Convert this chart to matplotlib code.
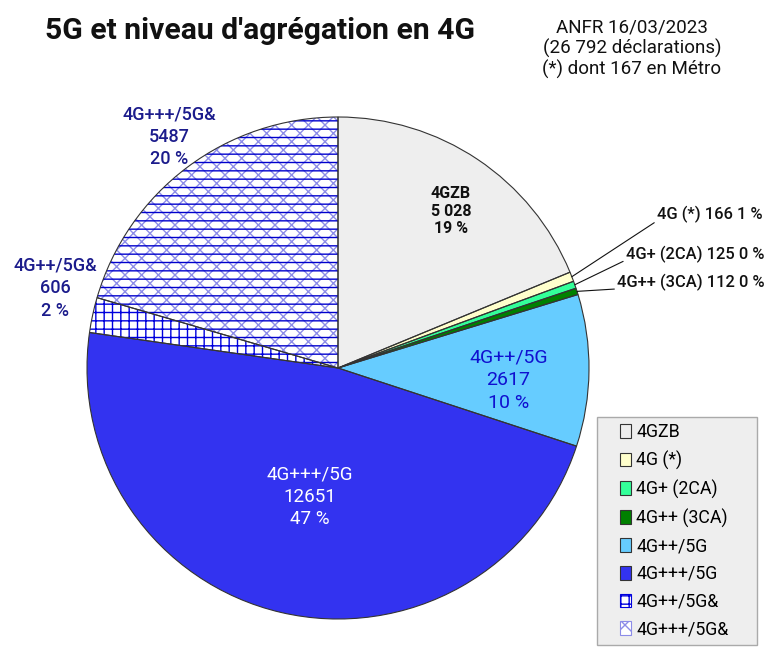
import matplotlib
matplotlib.use("Agg")
import matplotlib.pyplot as plt
from matplotlib.patches import Rectangle
import numpy as np

plt.rcParams['font.family'] = ['Roboto', 'DejaVu Sans']
plt.rcParams['hatch.linewidth'] = 1.0

categories = ["4GZB", "4G (*)", "4G+ (2CA)", "4G++ (3CA)", "4G++/5G", "4G+++/5G", "4G++/5G&", "4G+++/5G&"]
values = [5028, 166, 125, 112, 2617, 12651, 606, 5487]
value_text = ["5\u202f028", "166", "125", "112", "2617", "12651", "606", "5487"]
pct_text = ["19 %", "1 %", "0 %", "0 %", "10 %", "47 %", "2 %", "20 %"]
colors = ["#eeeeee", "#ffffcc", "#33ff99", "#008000", "#66ccff", "#3333f0", "#ffffff", "#ffffff"]
hatches = [None, None, None, None, None, None, "++", "xx"]
hatch_colors = [None, None, None, None, None, None, "#0000dd", "#8c8ce8"]
overlay_hatches = [None, None, None, None, None, None, None, "--"]
label_colors = ["#111111", "#111111", "#111111", "#111111", "#1010d0", "#ffffff", "#1c1c8c", "#1c1c8c"]
# (radial distance, angular shift in degrees) for in/out labels
label_polar = [(0.77, -2.0), None, None, None, (0.68, -3.5), (0.525, 0.7), (1.17, -3.6), (1.14, -0.8)]
label_sizes = [11.5, None, None, None, 14, 13.5, 13, 13]
small_text_pos = {1: (1.271, 0.610), 2: (1.147, 0.454), 3: (1.112, 0.339)}

fig = plt.figure(figsize=(7.67, 6.52), dpi=100)
R = 251
cx, cy = 338, 368
ax = fig.add_axes([(cx - R) / 767, (652 - cy - R) / 652, 2 * R / 767, 2 * R / 652])

wedges, _ = ax.pie(values, colors=colors, startangle=90, counterclock=False,
                   radius=1, wedgeprops=dict(linewidth=0))
for w, h, hc in zip(wedges, hatches, hatch_colors):
    if h:
        w.set_hatch(h)
        w.set_edgecolor(hc)
        w.set_linewidth(0)
over, _ = ax.pie(values, colors=["none"] * len(values), startangle=90, counterclock=False,
                 radius=1, wedgeprops=dict(linewidth=0))
for w, h in zip(over, overlay_hatches):
    if h:
        w.set_hatch(h)
        w.set_edgecolor("#0000cc")
        w.set_linewidth(0)
outline, _ = ax.pie(values, startangle=90, counterclock=False, radius=1,
                    wedgeprops=dict(fill=False, edgecolor="#333333", linewidth=0.8))
ax.set_xlim(-1, 1)
ax.set_ylim(-1, 1)
ax.set_aspect('equal')
ax.axis('off')

total = sum(values)
cum = np.cumsum([0] + values)
for i, cat in enumerate(categories):
    mid = 90 - 360 * (cum[i] + values[i] / 2) / total
    if label_polar[i] is not None:
        d, shift = label_polar[i]
        th = np.deg2rad(mid + shift)
        ax.text(d * np.cos(th), d * np.sin(th), f"{cat}\n{value_text[i]}\n{pct_text[i]}",
                ha='center', va='center', fontsize=label_sizes[i],
                color=label_colors[i], fontweight='bold' if i == 0 else ('medium' if i in (6, 7) else 'normal'),
                linespacing=1.2 if i == 0 else 1.33, clip_on=False)
    else:
        th = np.deg2rad(mid)
        tx, ty = small_text_pos[i]
        ax.annotate(f"{cat} {value_text[i]} {pct_text[i]}", xy=(np.cos(th), np.sin(th)),
                    xytext=(tx, ty), ha='left', va='center', fontsize=11.9,
                    fontweight='medium', color="#111111",
                    arrowprops=dict(arrowstyle='-', color='#111111', lw=0.8,
                                    shrinkA=0, shrinkB=0, relpos=(0, 0.15)),
                    annotation_clip=False)

fig.text(45 / 767, 1 - 31 / 652, "5G et niveau d'agrégation en 4G", ha='left', va='center',
         fontsize=21.7, fontweight='bold', color='#111111')
fig.text(632 / 767, 1 - 49 / 652, "ANFR 16/03/2023\n(26 792 déclarations)\n(*) dont 167 en Métro",
         ha='center', va='center', fontsize=13.5, linespacing=1.15, color='#111111')

# legend frame
fig.patches.append(Rectangle((597 / 767, 1 - 645 / 652), 160 / 767, 228 / 652,
                             transform=fig.transFigure, facecolor="#eeeeee",
                             edgecolor="#aaaaaa", linewidth=1.0, zorder=0))
leg = fig.legend(wedges, categories, loc='upper left',
                 bbox_to_anchor=(620 / 767, 1 - 423 / 652), frameon=False, fontsize=12.8,
                 handlelength=0.62, handleheight=0.8, handletextpad=0.3,
                 labelspacing=0.545, borderpad=0.0, borderaxespad=0)
for hnd in leg.legend_handles:
    hnd.set_linewidth(0.8)
    if not hnd.get_hatch():
        hnd.set_edgecolor("#333333")

fig.savefig("out.png", dpi=100)
